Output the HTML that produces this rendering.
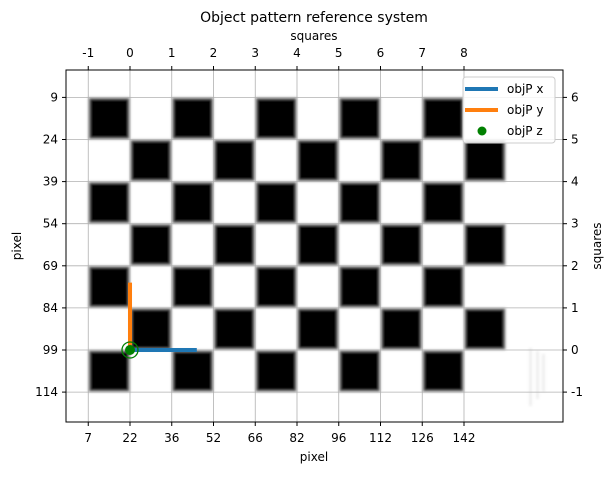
<!DOCTYPE html>
<html><head><meta charset="utf-8"><style>
body{margin:0;background:#fff}
svg text{font-family:"DejaVu Sans","Liberation Sans",sans-serif;fill:#000}
</style></head><body>
<svg id="c" width="614" height="475" viewBox="0 0 614 475" xmlns="http://www.w3.org/2000/svg">
<defs><filter id="bl" x="-20%" y="-20%" width="140%" height="140%"><feGaussianBlur stdDeviation="1.2"/></filter></defs>
<text x="314" y="22" font-size="14" text-anchor="middle">Object pattern reference system</text>
<g id="board"></g>
<g id="grid"></g>
<g id="series"></g>
<g id="axes"></g>
</svg>
<script>
const topTicks=[-1,0,1,2,3,4,5,6,7,8];
const bottomTickLabels=["7","22","36","52","66","82","96","112","126","142"];
const rightTicks=[6,5,4,3,2,1,0,-1];
const leftTickLabels=["9","24","39","54","69","84","99","114"];
const boardCols=10, boardRows=7;
const objPx=[[0,0],[1.6,0]];
const objPy=[[0,0],[0,1.6]];
const objPz=[[0,0]];
const L=66,R=563,T=70,B=422;
const X=u=>130+u*41.75;
const Y=v=>350-v*42.1;
const NS="http://www.w3.org/2000/svg";
function mk(t,a,p){const e=document.createElementNS(NS,t);for(const k in a)e.setAttribute(k,a[k]);p.appendChild(e);return e;}
const board=document.getElementById('board'),grid=document.getElementById('grid'),ser=document.getElementById('series'),ax=document.getElementById('axes');
for(let r=0;r<boardRows;r++)for(let c=0;c<boardCols;c++){
 if((r+c)%2===0){
  const x0=X(c-1),y0=Y(6-r);
  const s=mk('rect',{x:x0+1,y:y0+1,width:X(c)-x0-2,height:Y(5-r)-y0-2,fill:'#000',stroke:'#888','stroke-width':1.5,filter:'url(#bl)'},board);
  
  
 }
}
const ft=mk('g',{opacity:0.12,filter:'url(#bl)'},board);


[529,536,542].forEach((x,i)=>mk('rect',{x:x,y:348+i*3,width:3,height:58-i*10,fill:'#777'},ft));
topTicks.forEach(t=>{const x=X(t);mk('line',{x1:x,x2:x,y1:T,y2:B,stroke:'#b0b0b0','stroke-width':0.8},grid);});
rightTicks.forEach(t=>{const y=Y(t);mk('line',{x1:L,x2:R,y1:y,y2:y,stroke:'#b0b0b0','stroke-width':0.8},grid);});
const lx=mk('polyline',{points:objPx.map(p=>X(p[0])+','+Y(p[1])).join(' '),stroke:'#1f77b4','stroke-width':4,fill:'none'},ser);


const ly=mk('polyline',{points:objPy.map(p=>X(p[0])+','+Y(p[1])).join(' '),stroke:'#ff7f0e','stroke-width':4,fill:'none'},ser);


objPz.forEach(p=>{
 const ring=mk('circle',{cx:X(p[0]),cy:Y(p[1]),r:8,fill:'none',stroke:'green','stroke-width':1.3},ser);
 
 
 const d=mk('circle',{cx:X(p[0]),cy:Y(p[1]),r:5,fill:'green'},ser);
 
 
});
mk('rect',{x:L,y:T,width:R-L,height:B-T,fill:'none',stroke:'#000','stroke-width':1},ax);
topTicks.forEach((t,i)=>{const x=X(t);
 mk('line',{x1:x,x2:x,y1:T,y2:T-4,stroke:'#000'},ax);
 const a=mk('text',{x:x,y:57,'font-size':12,'text-anchor':'middle'},ax);a.textContent=t;
 
 
 mk('line',{x1:x,x2:x,y1:B,y2:B+4,stroke:'#000'},ax);
 const b=mk('text',{x:x,y:442,'font-size':12,'text-anchor':'middle'},ax);b.textContent=bottomTickLabels[i];
 
 
});
rightTicks.forEach((t,i)=>{const y=Y(t);
 mk('line',{x1:L,x2:L-4,y1:y,y2:y,stroke:'#000'},ax);
 const a=mk('text',{x:L-8,y:y+4,'font-size':12,'text-anchor':'end'},ax);a.textContent=leftTickLabels[i];
 
 
 mk('line',{x1:R,x2:R+4,y1:y,y2:y,stroke:'#000'},ax);
 const b=mk('text',{x:R+8,y:y+4,'font-size':12},ax);b.textContent=t;
 
 
});
</script>
<svg style="position:absolute;left:0;top:0" width="614" height="475">
<text x="314" y="40" font-size="12" text-anchor="middle" font-family="DejaVu Sans, sans-serif">squares</text>
<text x="314" y="461" font-size="12" text-anchor="middle" font-family="DejaVu Sans, sans-serif">pixel</text>
<text x="21" y="246" font-size="12" text-anchor="middle" font-family="DejaVu Sans, sans-serif" transform="rotate(-90 21 246)">pixel</text>
<text x="601" y="246" font-size="12" text-anchor="middle" font-family="DejaVu Sans, sans-serif" transform="rotate(-90 601 246)">squares</text>
<g font-family="DejaVu Sans, sans-serif" font-size="12">
<rect x="463" y="77" width="92" height="66" rx="3" fill="#fff" fill-opacity="0.85" stroke="#ccc"/>
<line x1="465" x2="498" y1="89" y2="89" stroke="#1f77b4" stroke-width="4"/>
<text x="507" y="93">objP x</text>
<line x1="465" x2="498" y1="110" y2="110" stroke="#ff7f0e" stroke-width="4"/>
<text x="507" y="114">objP y</text>
<circle cx="482" cy="131" r="4.5" fill="green"/>
<text x="507" y="135">objP z</text>
</g>
</svg>
</body></html>
